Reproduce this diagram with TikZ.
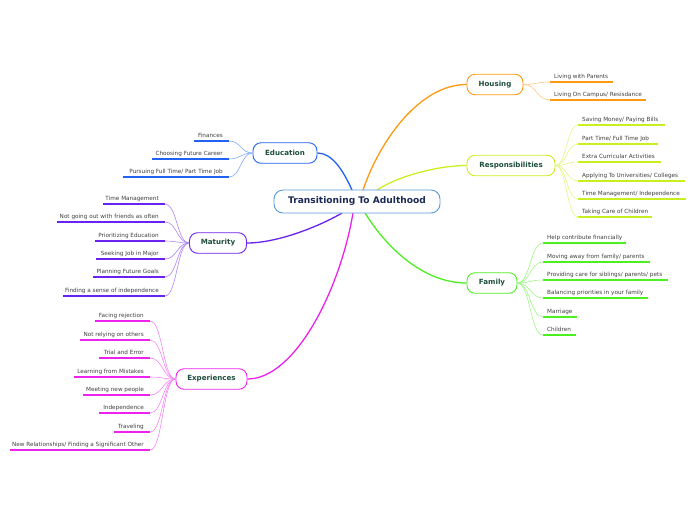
\documentclass[tikz,border=0pt]{standalone}
\usepackage{fontspec}
\setmainfont{DejaVu Sans}
\usetikzlibrary{calc}
\definecolor{cblue}{HTML}{5A9AD8}
\definecolor{navy}{HTML}{1B2A55}
\definecolor{dkgreen}{HTML}{1D4D3D}
\definecolor{itemgray}{HTML}{3E3E3E}
\definecolor{corange}{HTML}{FF9A10}
\definecolor{cyellow}{HTML}{C8F020}
\definecolor{cgreen}{HTML}{4CF020}
\definecolor{cbluebr}{HTML}{2262F2}
\definecolor{cpurple}{HTML}{6A22F0}
\definecolor{cmagenta}{HTML}{EE22EE}
\tikzset{
  centerbox/.style={draw=cblue, line width=0.9pt, rounded corners=9pt, fill=white,
    minimum width=166pt, minimum height=23pt, inner sep=0pt,
    font=\bfseries\fontsize{9.1}{10}\selectfont, text=navy},
  topic/.style={draw=#1, line width=0.9pt, rounded corners=8pt, fill=white,
    minimum height=20.5pt, inner sep=0pt,
    font=\bfseries\fontsize{7.1}{8}\selectfont, text=dkgreen},
  itemtext/.style={font=\fontsize{5.7}{6}\selectfont, text=itemgray, inner sep=0pt},
  uline/.style={draw=#1, line width=1.4pt},
  subconn/.style={draw=#1!55, line width=0.6pt},
  mainconn/.style={draw=#1, line width=1.3pt},
}
% right item: topic, name, colour, x near, x far, y, text
\newcommand\RItem[7]{%
  \coordinate (#2a) at (#4,#6);
  \coordinate (#2b) at (#5,#6);
  \node[itemtext, anchor=base west] (#2) at (#4+4,#6-4) {#7};
  \draw[uline=#3] (#2a) -- (#2b);
  \coordinate (#2m) at ($(#1.east)!0.5!(#2a)$);
  \draw[subconn=#3] (#1.east) .. controls (#2m |- #1.east) and (#2m |- #2a) .. (#2a);
}
% left item
\newcommand\LItem[7]{%
  \coordinate (#2a) at (#4,#6);
  \coordinate (#2b) at (#5,#6);
  \node[itemtext, anchor=base east] (#2) at (#4-6,#6-4) {#7};
  \draw[uline=#3] (#2a) -- (#2b);
  \coordinate (#2m) at ($(#1.west)!0.5!(#2a)$);
  \draw[subconn=#3] (#1.west) .. controls (#2m |- #1.west) and (#2m |- #2a) .. (#2a);
}
\begin{document}
\begin{tikzpicture}[x=1pt,y=-1pt]
\useasboundingbox (0,0) rectangle (696,520);

% main connectors first (under nodes)
\coordinate (cbN1) at (352,190);
\coordinate (cbN2) at (363,190);
\coordinate (cbN3) at (377,190);
\coordinate (cbS1) at (342,213);
\coordinate (cbS2) at (353,213);
\coordinate (cbS3) at (365,213);

\node[topic=corange, minimum width=56pt] (housing) at (495,84.5) {Housing};
\node[topic=cyellow, minimum width=88pt] (resp) at (511,165.5) {Responsibilities};
\node[topic=cgreen, minimum width=50pt] (family) at (492,283) {Family};
\node[topic=cbluebr, minimum width=64pt] (edu) at (285,153) {Education};
\node[topic=cpurple, minimum width=57pt] (mat) at (218,243) {Maturity};
\node[topic=cmagenta, minimum width=71pt] (exp) at (211.5,379) {Experiences};

\draw[mainconn=cbluebr] (cbN1) .. controls (343,170) and (332,153) .. (edu.east);
\draw[mainconn=corange] (cbN2) .. controls (380,140) and (420,84.5) .. (housing.west);
\draw[mainconn=cyellow] (cbN3) .. controls (400,175) and (440,165.5) .. (resp.west);
\draw[mainconn=cpurple] (cbS1) .. controls (320,226) and (278,243) .. (mat.east);
\draw[mainconn=cmagenta] (cbS2) .. controls (340,290) and (295,379) .. (exp.east);
\draw[mainconn=cgreen] (cbS3) .. controls (388,250) and (425,283) .. (family.west);

\node[centerbox] (center) at (357,201.5) {Transitioning To Adulthood};

% Housing
\RItem{housing}{h1}{corange}{550}{613}{82}{Living with Parents}
\RItem{housing}{h2}{corange}{550}{646}{100}{Living On Campus/ Resisdance}

% Responsibilities
\RItem{resp}{r1}{cyellow}{578}{665}{125}{Saving Money/ Paying Bills}
\RItem{resp}{r2}{cyellow}{578}{658}{144}{Part Time/ Full Time Job}
\RItem{resp}{r3}{cyellow}{578}{661}{162}{Extra Curricular Activities}
\RItem{resp}{r4}{cyellow}{578}{685}{181}{Applying To Universities/ Colleges}
\RItem{resp}{r5}{cyellow}{578}{686}{199}{Time Management/ Independence}
\RItem{resp}{r6}{cyellow}{578}{652}{217}{Taking Care of Children}

% Family
\RItem{family}{f1}{cgreen}{543}{626}{243}{Help contribute financially}
\RItem{family}{f2}{cgreen}{543}{650}{262}{Moving away from family/ parents}
\RItem{family}{f3}{cgreen}{543}{668}{280}{Providing care for siblings/ parents/ pets}
\RItem{family}{f4}{cgreen}{543}{648}{298}{Balancing priorities in your family}
\RItem{family}{f5}{cgreen}{543}{577}{317}{Marriage}
\RItem{family}{f6}{cgreen}{543}{576}{335}{Children}

% Education
\LItem{edu}{e1}{cbluebr}{229}{194}{141}{Finances}
\LItem{edu}{e2}{cbluebr}{229}{152}{159}{Choosing Future Career}
\LItem{edu}{e3}{cbluebr}{229}{123}{177}{Pursuing Full Time/ Part Time Job}

% Maturity
\LItem{mat}{m1}{cpurple}{165}{103}{204}{Time Management}
\LItem{mat}{m2}{cpurple}{165}{57}{222}{Not going out with friends as often}
\LItem{mat}{m3}{cpurple}{165}{95}{241}{Prioritizing Education}
\LItem{mat}{m4}{cpurple}{165}{96}{259}{Seeking Job in Major}
\LItem{mat}{m5}{cpurple}{165}{93}{277}{Planning Future Goals}
\LItem{mat}{m6}{cpurple}{165}{63}{296}{Finding a sense of independence}

% Experiences
\LItem{exp}{x1}{cmagenta}{150}{95}{321}{Facing rejection}
\LItem{exp}{x2}{cmagenta}{150}{80}{340}{Not relying on others}
\LItem{exp}{x3}{cmagenta}{150}{99}{358}{Trial and Error}
\LItem{exp}{x4}{cmagenta}{150}{74}{377}{Learning from Mistakes}
\LItem{exp}{x5}{cmagenta}{150}{83}{395}{Meeting new people}
\LItem{exp}{x6}{cmagenta}{150}{99}{413}{Independence}
\LItem{exp}{x7}{cmagenta}{150}{114}{432}{Traveling}
\LItem{exp}{x8}{cmagenta}{150}{10}{450}{New Relationships/ Finding a Significant Other}
\end{tikzpicture}
\end{document}
